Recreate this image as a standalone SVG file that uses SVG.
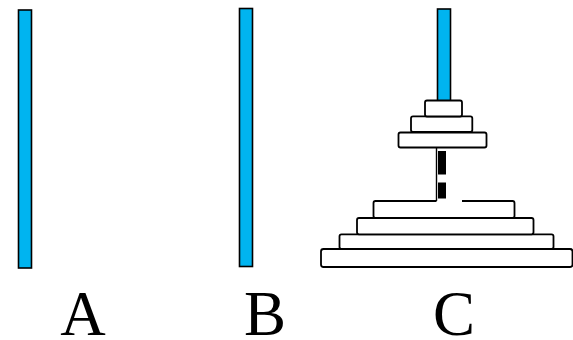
<svg xmlns="http://www.w3.org/2000/svg" width="573" height="340" viewBox="0 0 573 340">
<style>
.rod{fill:#00b4f0;stroke:#000;stroke-width:1.6}
.disk{fill:#fff;stroke:#000;stroke-width:1.8}
.lbl{font-family:"Liberation Serif","Times New Roman",serif;font-size:63px;fill:#000;text-anchor:middle}
</style>
<rect width="573" height="340" fill="#fff"/>
<g id="pegA">
<rect class="rod" x="18.5" y="10" width="13" height="258"/>
<text class="lbl" x="83" y="335">A</text>
</g>
<g id="pegB">
<rect class="rod" x="239.5" y="8.5" width="13" height="258"/>
<text class="lbl" x="265" y="335">B</text>
</g>
<g id="pegC">
<rect class="rod" x="437.5" y="9" width="13" height="92"/>
<line x1="436.5" y1="147.5" x2="436.5" y2="201" stroke="#000" stroke-width="1.4"/>
<rect x="438" y="151" width="8" height="23.5" fill="#000"/>
<rect x="438" y="182.5" width="8" height="16" fill="#000"/>
<rect class="disk" x="321" y="249" width="251.5" height="18" rx="2.5"/>
<rect class="disk" x="339.5" y="234.3" width="214" height="14.7" rx="2"/>
<rect class="disk" x="357" y="218" width="176.5" height="16.3" rx="2"/>
<path class="disk" d="M436.5,201 H375.5 Q373.5,201 373.5,203 V216 Q373.5,218 375.5,218 H512.5 Q514.5,218 514.5,216 V203 Q514.5,201 512.5,201 H462"/>
<rect class="disk" x="398.5" y="132.5" width="88" height="15" rx="2"/>
<rect class="disk" x="411" y="116.3" width="61.3" height="15.7" rx="2"/>
<rect class="disk" x="425" y="100.5" width="37" height="16" rx="2"/>
<text class="lbl" x="454" y="335">C</text>
</g>
<g id="connectors"/>
</svg>
